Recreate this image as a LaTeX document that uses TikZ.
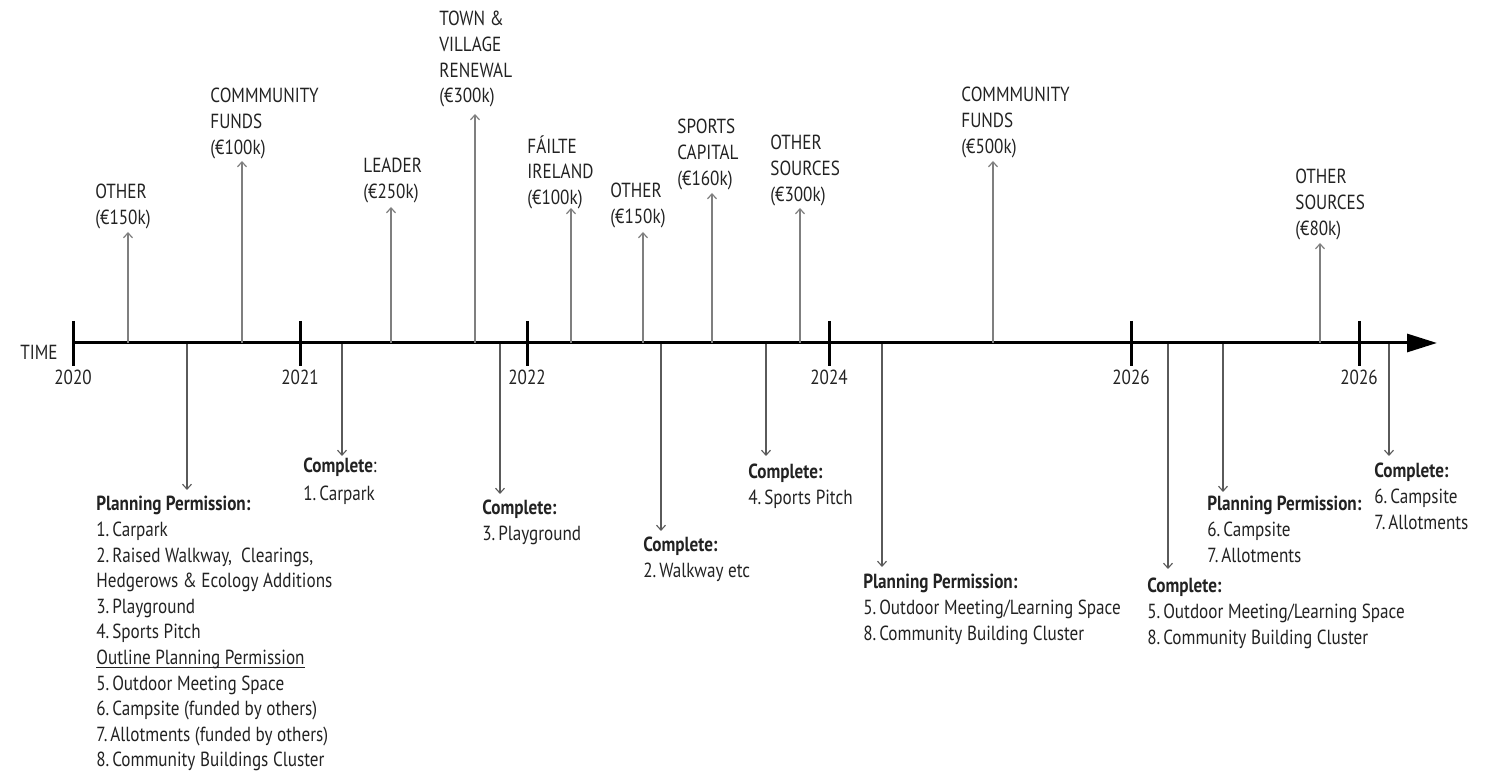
\documentclass[tikz,border=0pt]{standalone}
\usepackage{fontspec}
\setmainfont{PT Sans}[FakeStretch=0.84]
\usetikzlibrary{arrows.meta}
\definecolor{txt}{HTML}{222222}
\definecolor{upline}{HTML}{7F7F7F}
\definecolor{dnline}{HTML}{5A5A5A}
\newcommand\nsp{\hspace{0.14em}}
\newcommand\myul[1]{\setbox0\hbox{#1}\rlap{\rule[-1.7pt]{\wd0}{0.45pt}}#1}
\tikzset{
  lbl/.style={anchor=north west,inner sep=0pt,align=left,text=txt,font=\fontsize{10.2}{12.8}\selectfont},
  yr/.style={anchor=north,inner sep=0pt,text=txt,font=\fontsize{10.2}{12.8}\selectfont},
  upconn/.style={draw=upline,line width=0.6pt,-{Straight Barb[length=2.5pt,width=4.5pt,line width=0.6pt]}},
  dnconn/.style={draw=dnline,line width=0.55pt,-{Straight Barb[length=2.5pt,width=4.5pt,line width=0.55pt]}},
  tick/.style={draw=black,line width=1.5pt},
}
\begin{document}
\begin{tikzpicture}[x=0.5pt,y=-0.5pt]
\useasboundingbox (0,0) rectangle (1501,779);
% axis
\coordinate (ax0) at (73,343);
\coordinate (ax1) at (1437,343);
\draw[line width=1.5pt,-{Triangle[length=15pt,width=9pt]}] (ax0) -- (ax1);
\node[anchor=east,inner sep=0pt,text=txt,font=\fontsize{10.2}{12.8}\selectfont] (time) at (58,352) {TIME};
% ticks and years
\foreach \n/\x/\y in {t0/73/2020,t1/300/2021,t2/527/2022,t3/829/2024,t4/1131/2026,t5/1359/2026}{
  \coordinate (\n a) at (\x,321);
  \coordinate (\n b) at (\x,366);
  \draw[tick] (\n a) -- (\n b);
  \node[yr] (\n y) at (\x,370) {\y};
}
% upward funding arrows
\foreach \n/\x/\t in {u1/128/232,u2/242/161,u3/391/207,u4/475/114,u5/571/208,u6/643/232,u7/712/193,u8/800/208,u9/993/161,u10/1320/243}{
  \coordinate (\n a) at (\x,343);
  \coordinate (\n t) at (\x,\t);
  \draw[upconn] (\n a) -- (\n t);
}
\node[lbl] (l1) at (95,184) {OTHER\\(€150k)};
\node[lbl] (l2) at (210,88) {COMMMUNITY\\FUNDS\\(€100k)};
\node[lbl] (l3) at (363,158) {LEADER\\(€250k)};
\node[lbl] (l4) at (439,11) {TOWN \&\\VILLAGE\\RENEWAL\\(€300k)};
\node[lbl] (l5) at (527,135) {FÁILTE\\IRELAND\\(€100k)};
\node[lbl] (l6) at (610,183) {OTHER\\(€150k)};
\node[lbl] (l7) at (677,119) {SPORTS\\CAPITAL\\(€160k)};
\node[lbl] (l8) at (770,135) {OTHER\\SOURCES\\(€300k)};
\node[lbl] (l9) at (961,87) {COMMMUNITY\\FUNDS\\(€500k)};
\node[lbl] (l10) at (1295,169) {OTHER\\SOURCES\\(€80k)};
% downward milestone arrows
\foreach \n/\x/\t in {d1/187/490,d2/342/456,d3/500/494,d4/661/531,d5/766/456,d6/882/567,d7/1168/569,d8/1223/492,d9/1389/456}{
  \coordinate (\n a) at (\x,344);
  \coordinate (\n t) at (\x,\t);
  \draw[dnconn] (\n a) -- (\n t);
}
\node[lbl] (m1) at (96,496) {\textbf{Planning Permission:}\\1.\nsp Carpark\\2.\nsp Raised Walkway,\ \ Clearings,\\Hedgerows \& Ecology Additions\\3.\nsp Playground\\4.\nsp Sports Pitch\\\myul{Outline Planning Permission}\\5.\nsp Outdoor Meeting Space\\6.\nsp Campsite (funded by others)\\7.\nsp Allotments (funded by others)\\8.\nsp Community Buildings Cluster};
\node[lbl] (m2) at (303,458) {\textbf{Complete}:\\[1pt]1.\nsp Carpark};
\node[lbl] (m3) at (482,500) {\textbf{Complete:}\\3.\nsp Playground};
\node[lbl] (m4) at (643,537) {\textbf{Complete:}\\2.\nsp Walkway etc};
\node[lbl] (m5) at (748,464) {\textbf{Complete:}\\4.\nsp Sports Pitch};
\node[lbl] (m6) at (863,574) {\textbf{Planning Permission:}\\5.\nsp Outdoor Meeting/Learning Space\\8.\nsp Community Building Cluster};
\node[lbl] (m7) at (1147,578) {\textbf{Complete:}\\5.\nsp Outdoor Meeting/Learning Space\\8.\nsp Community Building Cluster};
\node[lbl] (m8) at (1207,496) {\textbf{Planning Permission:}\\6.\nsp Campsite\\7.\nsp Allotments};
\node[lbl] (m9) at (1374,463) {\textbf{Complete:}\\6.\nsp Campsite\\7.\nsp Allotments};
\end{tikzpicture}
\end{document}
